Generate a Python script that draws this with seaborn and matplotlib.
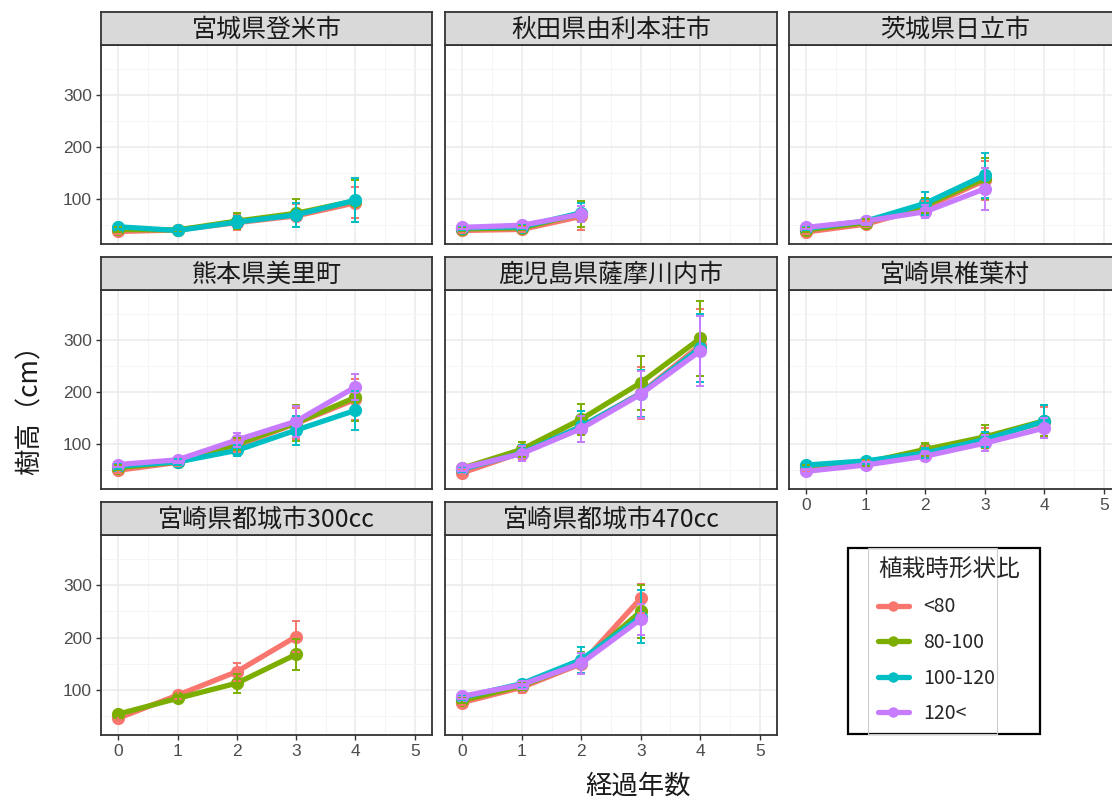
import matplotlib
matplotlib.use("Agg")
import matplotlib.pyplot as plt
from matplotlib.lines import Line2D
from matplotlib.patches import Rectangle
from matplotlib.ticker import MultipleLocator
import numpy as np
import pandas as pd
import seaborn as sns

sns.set_theme(style="white")
plt.rcParams["font.family"] = ["Noto Sans CJK JP", "DejaVu Sans"]

# ---------------- data ----------------
groups = ["<80", "80-100", "100-120", "120<"]
colors = ["#F8766D", "#7CAE00", "#00BFC4", "#C77CFF"]
sites = ["宮城県登米市", "秋田県由利本荘市", "茨城県日立市",
         "熊本県美里町", "鹿児島県薩摩川内市", "宮崎県椎葉村",
         "宮崎県都城市300cc", "宮崎県都城市470cc"]
years = [0, 1, 2, 3, 4]

# means / sd per site: one row per group (None = group absent)
tome_mean = [[38, 41, 55, 68, 93], [42, 41, 58, 73, 97], [47, 40, 56, 70, 98], None]
tome_sd = [[4, 4, 14, 22, 30], [5, 4, 16, 27, 40], [5, 4, 12, 23, 42], None]
yuri_mean = [[40, 42, 67], [43, 45, 72], [45, 47, 74], [46, 50, 71]]
yuri_sd = [[4, 5, 27], [4, 5, 25], [4, 5, 18], [4, 5, 15]]
hitachi_mean = [[37, 52, 84, 136], [41, 55, 88, 140], [44, 58, 92, 146], [46, 58, 76, 120]]
hitachi_sd = [[4, 6, 12, 38], [4, 7, 14, 40], [4, 8, 22, 43], [4, 7, 12, 40]]
misato_mean = [[50, 65, 97, 140, 186], [55, 66, 100, 141, 190], [58, 66, 88, 127, 165], [61, 70, 108, 144, 210]]
misato_sd = [[5, 6, 12, 30, 40], [5, 6, 12, 35, 45], [5, 6, 10, 28, 38], [5, 6, 14, 30, 25]]
satsuma_mean = [[45, 84, 134, 198, 290], [54, 90, 148, 218, 303], [52, 83, 134, 197, 285], [54, 82, 130, 196, 279]]
satsuma_sd = [[5, 15, 30, 50, 70], [5, 15, 30, 52, 72], [5, 15, 30, 45, 65], [5, 15, 25, 45, 67]]
shiiba_mean = [[50, 62, 85, 112, 142], [56, 65, 90, 114, 145], [60, 68, 83, 109, 144], [48, 60, 77, 102, 131]]
shiiba_sd = [[4, 6, 12, 20, 30], [4, 6, 12, 22, 30], [4, 6, 10, 15, 32], [4, 6, 10, 15, 20]]
miyako300_mean = [[46, 90, 135, 202], [54, 84, 113, 168], None, None]
miyako300_sd = [[4, 8, 17, 30], [4, 6, 18, 30], None, None]
miyako470_mean = [[76, 105, 150, 275], [80, 108, 152, 250], [86, 112, 158, 240], [88, 110, 151, 235]]
miyako470_sd = [[5, 10, 20, 28], [5, 8, 20, 50], [5, 8, 25, 50], [5, 8, 20, 30]]

site_means = [tome_mean, yuri_mean, hitachi_mean, misato_mean,
              satsuma_mean, shiiba_mean, miyako300_mean, miyako470_mean]
site_sds = [tome_sd, yuri_sd, hitachi_sd, misato_sd,
            satsuma_sd, shiiba_sd, miyako300_sd, miyako470_sd]

rows = []
for s, means, sds in zip(sites, site_means, site_sds):
    for g, m, sd in zip(groups, means, sds):
        if m is None:
            continue
        for y, mv, sv in zip(years, m, sd):
            rows.append(dict(site=s, group=g, year=y, height=mv, sd=sv))
df = pd.DataFrame(rows)
pal = dict(zip(groups, colors))

# ---------------- layout ----------------
W, H = 1112, 800
fig = plt.figure(figsize=(W / 100, H / 100), dpi=100)
fig.patch.set_facecolor("white")


def box(l, t, r, b):
    return [l / W, 1 - b / H, (r - l) / W, (b - t) / H]


col_x = [(101, 432), (445, 777), (789, 1121)]
row_y = [(45, 244), (290, 489), (535, 735)]
strip_h = 33
border_col = "#333333"

for i, s in enumerate(sites):
    r, c = divmod(i, 3)
    l, rr = col_x[c]
    t, b = row_y[r]
    ax = fig.add_axes(box(l, t, rr, b))
    sub = df[df.site == s]
    present = [g for g in groups if g in sub.group.unique()]
    sns.lineplot(data=sub, x="year", y="height", hue="group", hue_order=present,
                 palette=pal, marker="o", markersize=9.5, markeredgewidth=0,
                 linewidth=3.8, legend=False, ax=ax, errorbar=None, zorder=3)
    for g in present:
        gs = sub[sub.group == g]
        ax.errorbar(gs.year, gs.height, yerr=gs["sd"], fmt="none", ecolor=pal[g],
                    elinewidth=1.4, capsize=3, capthick=1.4, zorder=4)
    ax.set_xlim(-0.29, 5.29)
    ax.set_ylim(14, 396)
    ax.xaxis.set_major_locator(MultipleLocator(1))
    ax.xaxis.set_minor_locator(MultipleLocator(0.5))
    ax.yaxis.set_major_locator(MultipleLocator(100))
    ax.yaxis.set_minor_locator(MultipleLocator(50))
    ax.set_yticks([100, 200, 300])
    ax.grid(True, which="major", color="#EBEBEB", linewidth=1.1, zorder=0)
    ax.grid(True, which="minor", color="#F4F4F4", linewidth=0.6, zorder=0)
    ax.set_axisbelow(True)
    for sp in ax.spines.values():
        sp.set_color(border_col)
        sp.set_linewidth(1.3)
    ax.set_xlabel("")
    ax.set_ylabel("")
    ax.tick_params(which="major", length=3.5, width=1, color=border_col,
                   labelcolor="#4D4D4D", labelsize=12.5, pad=3,
                   bottom=True, left=True)
    ax.tick_params(which="minor", length=0)
    show_x = (r == 2) or (r == 1 and c == 2)
    if not show_x:
        ax.tick_params(axis="x", labelbottom=False, bottom=False)
    else:
        ax.set_xticks([0, 1, 2, 3, 4, 5])
        ax.set_xticklabels([str(v) for v in range(6)], family="Liberation Sans")
    if c != 0:
        ax.tick_params(axis="y", labelleft=False, left=False)
    else:
        ax.set_yticklabels(["100", "200", "300"], family="Liberation Sans")
    # strip
    sax = fig.add_axes(box(l, t - strip_h, rr, t))
    sax.set_facecolor("#D9D9D9")
    sax.set_xticks([])
    sax.set_yticks([])
    for sp in sax.spines.values():
        sp.set_color(border_col)
        sp.set_linewidth(1.3)
    sax.text(0.5, 0.47, s, ha="center", va="center", fontsize=18,
             color="#1A1A1A", transform=sax.transAxes)

# axis labels
fig.text(30 / W, 1 - 403 / H, "樹高（cm）", rotation=90, ha="center", va="center",
         fontsize=19, color="#1A1A1A")
fig.text(638 / W, 1 - 786 / H, "経過年数", ha="center", va="center",
         fontsize=19, color="#1A1A1A")

# legend
fig.patches.append(Rectangle((848 / W, 1 - 734 / H), 192 / W, 186 / H,
                             transform=fig.transFigure, fill=False,
                             edgecolor="black", linewidth=1.6, zorder=1))
fig.patches.append(Rectangle((868 / W, 1 - 734 / H), 129 / W, 186 / H,
                             transform=fig.transFigure, fill=False,
                             edgecolor="#CCCCCC", linewidth=0.8, zorder=1))
handles = [Line2D([0], [0], color=col, linewidth=3.8, marker="o", markersize=7.5,
                  markeredgewidth=0) for col in colors]
leg = fig.legend(handles, groups, title="植栽時形状比", loc="upper left",
                 bbox_to_anchor=(872 / W, 1 - 553 / H), frameon=False,
                 fontsize=14, title_fontsize=17, handlelength=1.6,
                 labelspacing=0.75, handletextpad=0.75, borderpad=0.3,
                 borderaxespad=0)
leg._legend_box.align = "left"

fig.savefig("out.png", dpi=100)
